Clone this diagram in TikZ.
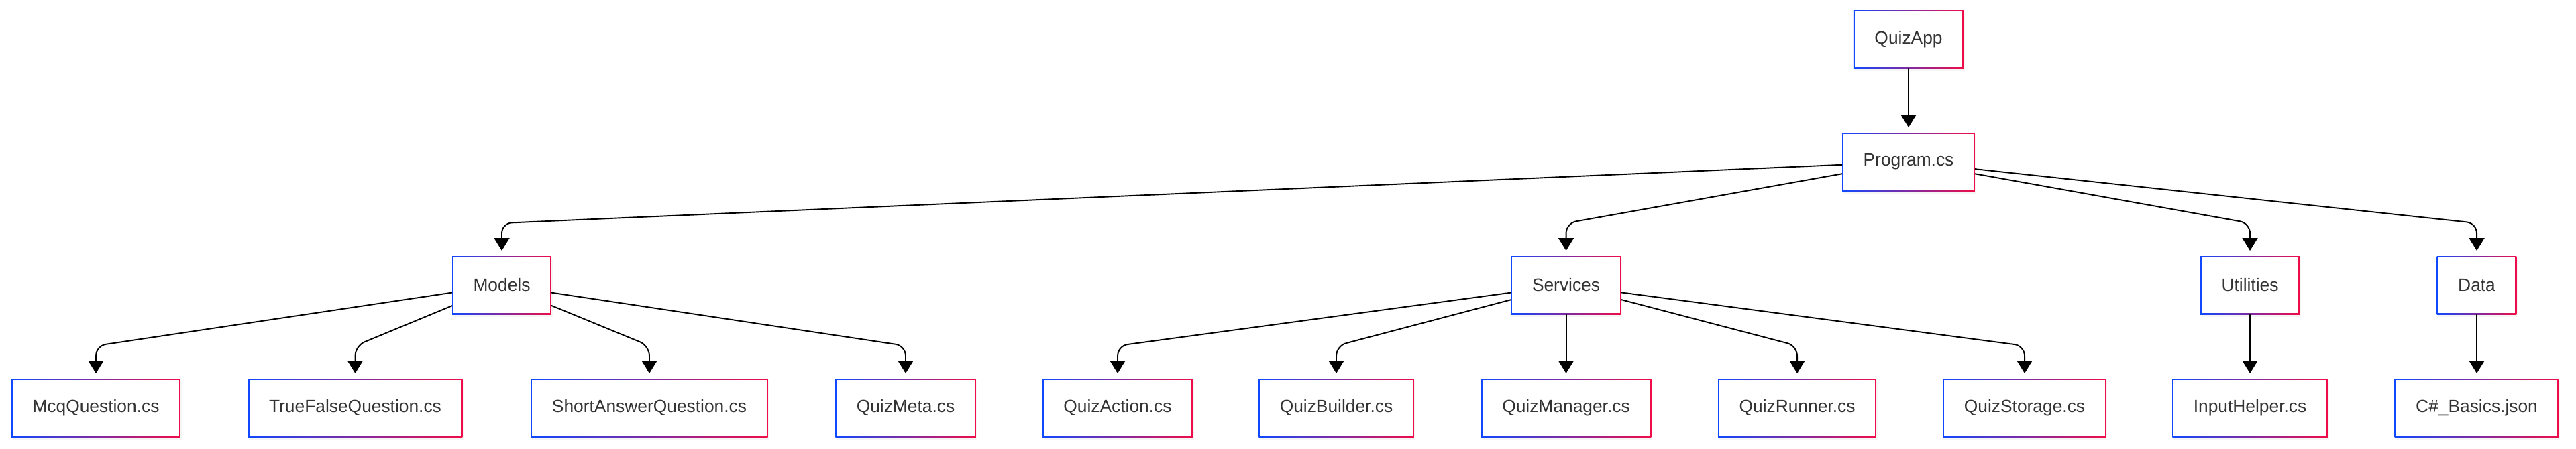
\documentclass[tikz,border=0pt]{standalone}
\usepackage{fontspec}
\setmainfont{Liberation Sans}
\usetikzlibrary{arrows.meta, positioning, shadows}
\definecolor{qblue}{RGB}{15,72,255}
\definecolor{qred}{RGB}{240,12,72}
\definecolor{qtext}{RGB}{51,51,51}
\tikzstyle{block}=[rectangle, left color=qblue, right color=qred, text=qtext,
  minimum height=0.87cm, inner xsep=0.315cm, inner ysep=0pt, outer sep=0pt,
  drop shadow={opacity=0.08, shadow xshift=0.5pt, shadow yshift=-1.2pt},
  path picture={\fill[white] ([shift={(0.02cm,0.02cm)}]path picture bounding box.south west)
    rectangle ([shift={(-0.02cm,-0.02cm)}]path picture bounding box.north east);}]
\tikzstyle{every node}=[font=\fontsize{7.5pt}{9pt}\selectfont]
\tikzstyle{link}=[->, line width=0.55pt, rounded corners=0.15cm, shorten >=0.08cm]

\begin{document}
\begin{tikzpicture}[node distance=1.83cm, >={Triangle[width=0.23cm,length=0.19cm]}]
    \useasboundingbox (0,0) rectangle (38.4,-6.69);
    % files
    \node[block] (mcq) at (1.43,-6.085) {McqQuestion.cs};
    \node[block, right of=mcq, node distance=3.865cm] (tf) {TrueFalseQuestion.cs};
    \node[block, right of=tf, node distance=4.385cm] (sa) {ShortAnswerQuestion.cs};
    \node[block, right of=sa, node distance=3.82cm] (meta) {QuizMeta.cs};
    \node[block, right of=meta, node distance=3.16cm] (act) {QuizAction.cs};
    \node[block, right of=act, node distance=3.26cm] (build) {QuizBuilder.cs};
    \node[block, right of=build, node distance=3.425cm] (mgr) {QuizManager.cs};
    \node[block, right of=mgr, node distance=3.445cm] (run) {QuizRunner.cs};
    \node[block, right of=run, node distance=3.39cm] (store) {QuizStorage.cs};
    \node[block, right of=store, node distance=3.36cm] (input) {InputHelper.cs};
    \node[block, right of=input, node distance=3.38cm] (json) {C\#\_Basics.json};
    % folders
    \node[block] (models) at (7.48,-4.255) {Models};
    \node[block, above of=mgr] (services) {Services};
    \node[block, above of=input] (utils) {Utilities};
    \node[block, above of=json] (data) {Data};
    \node[block] (prog) at (28.45,-2.415) {Program.cs};
    \node[block, above of=prog] (app) {QuizApp};
    \coordinate (bendA) at (0,-3.33);
    \coordinate (bendB) at (0,-5.16);
    \draw[link] (app) -- (prog);
    \draw[link] (prog) -- (models |- bendA) -- (models);
    \draw[link] (prog) -- (services |- bendA) -- (services);
    \draw[link] (prog) -- (utils |- bendA) -- (utils);
    \draw[link] (prog) -- (data |- bendA) -- (data);
    \draw[link] (models) -- (mcq |- bendB) -- (mcq);
    \draw[link] (models) -- (tf |- bendB) -- (tf);
    \draw[link] (models) -- (sa |- bendB) -- (sa);
    \draw[link] (models) -- (meta |- bendB) -- (meta);
    \draw[link] (services) -- (act |- bendB) -- (act);
    \draw[link] (services) -- (build |- bendB) -- (build);
    \draw[link] (services) -- (mgr);
    \draw[link] (services) -- (run |- bendB) -- (run);
    \draw[link] (services) -- (store |- bendB) -- (store);
    \draw[link] (utils) -- (input);
    \draw[link] (data) -- (json);
\end{tikzpicture}
\end{document}
